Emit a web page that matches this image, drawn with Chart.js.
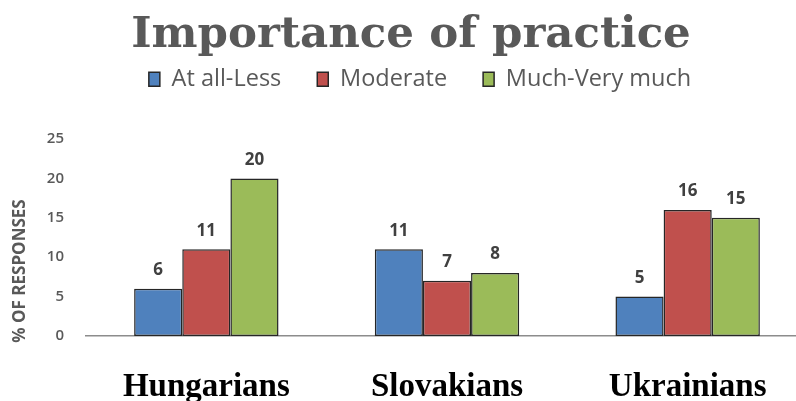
<!DOCTYPE html>
<html>
<head>
<meta charset="utf-8">
<title>Importance of practice</title>
<script src="https://cdn.jsdelivr.net/npm/chart.js@4.4.1/dist/chart.umd.min.js"></script>
<style>
    html, body { margin: 0; padding: 0; background: #ffffff; overflow: hidden; }
    #wrap { width: 808px; height: 401px; }
</style>
</head>
<body>
<div id="wrap"><canvas id="practiceChart" width="808" height="401"></canvas></div>
<script>
// Importance of practice - grouped bars per nationality

const categories = ["Hungarians", "Slovakians", "Ukrainians"];
const seriesNames = ["At all-Less", "Moderate", "Much-Very much"];
const atAllLess = [6, 11, 5];
const moderate = [11, 7, 16];
const muchVeryMuch = [20, 8, 15];
const yTicks = [0, 5, 10, 15, 20, 25];

const GRAY_TEXT = "#595959";
const BAR_EDGE = "#262626";

// Numbers on top of every bar
const valueLabels = {
    id: "valueLabels",
    afterDatasetsDraw(chart) {
        const ctx = chart.ctx;
        ctx.save();
        ctx.font = "bold 17px 'Open Sans', sans-serif";
        ctx.fillStyle = "#404040";
        ctx.textAlign = "center";
        ctx.textBaseline = "bottom";
        chart.data.datasets.forEach((ds, i) => {
            chart.getDatasetMeta(i).data.forEach((bar, j) => {
                ctx.fillText(ds.data[j], bar.x, bar.y - 10);
            });
        });
        ctx.restore();
    }
};

// Rotated y axis title, sits a bit lower than the axis middle in the original
const yAxisTitle = {
    id: "yAxisTitle",
    afterDraw(chart) {
        const ctx = chart.ctx;
        ctx.save();
        ctx.translate(20, 271);
        ctx.rotate(-Math.PI / 2);
        ctx.font = "bold 17px 'Open Sans', sans-serif";
        ctx.fillStyle = GRAY_TEXT;
        ctx.textAlign = "center";
        ctx.textBaseline = "middle";
        ctx.fillText("% OF RESPONSES", 0, 0);
        ctx.restore();
    }
};

// Extra room between the legend and the plot, and nudge title/legend right a bit
const legendGap = {
    id: "legendGap",
    beforeInit(chart) {
        const fit = chart.legend.fit;
        chart.legend.fit = function () {
            fit.bind(chart.legend)();
            this.height += 38;
        };
    },
    afterLayout(chart) {
        chart.legend.left += 16;
        chart.legend.right += 16;
        chart.titleBlock.left += 7;
        chart.titleBlock.right += 7;
    }
};

const colors = ["#4F81BD", "#C0504D", "#9BBB59"];
const values = [atAllLess, moderate, muchVeryMuch];

new Chart(document.getElementById("practiceChart"), {
    type: "bar",
    data: {
        labels: categories,
        datasets: seriesNames.map((name, i) => ({
            label: name,
            data: values[i],
            backgroundColor: colors[i],
            borderColor: BAR_EDGE,
            borderWidth: 1.5,
            borderSkipped: false,
            barPercentage: 1.0,
            categoryPercentage: 0.6
        }))
    },
    options: {
        responsive: false,
        animation: false,
        layout: { padding: { top: 14, right: 0, bottom: 0, left: 0 } },
        plugins: {
            title: {
                display: true,
                text: "Importance of practice",
                color: GRAY_TEXT,
                font: { family: "'DejaVu Serif', serif", weight: "bold", size: 43.5, lineHeight: 1.0 },
                padding: { top: 0, bottom: -26 }
            },
            legend: {
                display: true,
                position: "top",
                labels: {
                    color: GRAY_TEXT,
                    font: { family: "'Open Sans', sans-serif", size: 23.5 },
                    boxWidth: 11,
                    boxHeight: 14,
                    padding: 36
                }
            },
            tooltip: { enabled: false }
        },
        scales: {
            x: {
                afterFit: (scale) => { scale.height = 65; },
                grid: { display: false },
                border: { display: true, color: "#8c8c8c", width: 1.5 },
                ticks: {
                    color: "#000000",
                    font: { family: "'Liberation Serif', serif", weight: "bold", size: 33 },
                    padding: 24
                }
            },
            y: {
                min: 0,
                max: 25,
                afterFit: (scale) => { scale.width = 86; },
                afterBuildTicks: (scale) => { scale.ticks = yTicks.map(v => ({ value: v })); },
                grid: { display: false },
                border: { display: false },
                ticks: {
                    color: GRAY_TEXT,
                    font: { family: "'Open Sans', sans-serif", weight: "600", size: 15 },
                    padding: 14
                }
            }
        }
    },
    plugins: [valueLabels, yAxisTitle, legendGap]
});
</script>
</body>
</html>
